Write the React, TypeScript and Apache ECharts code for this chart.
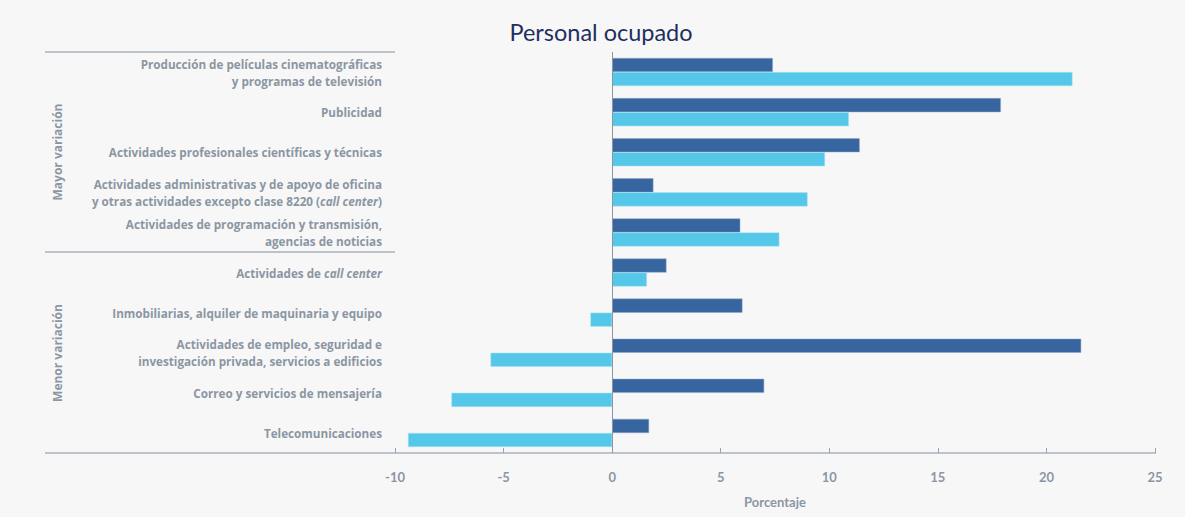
import React, { useEffect, useRef } from "react";
import * as echarts from "echarts";

const categories = [
  "Producción de películas cinematográficas\ny programas de televisión",
  "Publicidad",
  "Actividades profesionales científicas y técnicas",
  "Actividades administrativas y de apoyo de oficina\ny otras actividades excepto clase 8220 (call center)",
  "Actividades de programación y transmisión,\nagencias de noticias",
  "Actividades de call center",
  "Inmobiliarias, alquiler de maquinaria y equipo",
  "Actividades de empleo, seguridad e\ninvestigación privada, servicios a edificios",
  "Correo y servicios de mensajería",
  "Telecomunicaciones",
];

const seriesDark = [7.4, 17.9, 11.4, 1.9, 5.9, 2.5, 6.0, 21.6, 7.0, 1.7];
const seriesLight = [21.2, 10.9, 9.8, 9.0, 7.7, 1.6, -1.0, -5.6, -7.4, -9.4];

const groupLabels = ["Mayor variación", "Menor variación"];
const titleText = "Personal ocupado";
const xAxisName = "Porcentaje";

const GRAY = "#8b96a3";
const LINE = "#bcc3cb";
const FONT = "Lato, 'Noto Sans', sans-serif";
const LFONT = "'Open Sans', 'Noto Sans', sans-serif";

function richLabel(s: string): string {
  const parts = s.split("call center");
  const out: string[] = [];
  parts.forEach((p, i) => {
    if (p.length) out.push("{b|" + p + "}");
    if (i < parts.length - 1) out.push("{i|call center}");
  });
  return out.join("");
}

export default function App() {
  const ref = useRef<HTMLDivElement>(null);
  useEffect(() => {
    if (!ref.current) return;
    const chart = echarts.init(ref.current, undefined, { renderer: "svg" });
    const labelStyle = { fontFamily: LFONT, fontSize: 11.7, fontWeight: "bold" as const, color: GRAY, lineHeight: 17 };
    const groupStyle = {
      fontFamily: LFONT,
      fontSize: 12,
      fontWeight: "bold" as const,
      fill: GRAY,
      align: "center" as const,
      verticalAlign: "middle" as const,
    };
    chart.setOption({
      animation: false,
      backgroundColor: "#f7f7f7",
      grid: { left: 395, right: 30, top: 52, bottom: 64, containLabel: false },
      xAxis: {
        type: "value",
        min: -10,
        max: 25,
        interval: 5,
        name: xAxisName,
        nameLocation: "middle",
        nameGap: 42,
        nameTextStyle: { fontFamily: FONT, fontSize: 13, fontWeight: "bold", color: GRAY },
        axisLine: { show: true, lineStyle: { color: LINE, width: 2 } },
        axisTick: { show: true, inside: true, length: 5, lineStyle: { color: "#9aa3ad" } },
        axisLabel: { fontFamily: FONT, fontSize: 13, fontWeight: "bold", color: GRAY, margin: 17 },
        splitLine: { show: false },
      },
      yAxis: {
        type: "category",
        inverse: true,
        data: categories,
        axisLine: { show: false, onZero: false },
        axisTick: { show: false },
        axisLabel: {
          margin: 13,
          align: "right",
          formatter: (v: string) => richLabel(v),
          rich: {
            b: { ...labelStyle },
            i: { ...labelStyle, fontStyle: "italic" },
          },
          ...labelStyle,
        },
      },
      series: [
        {
          name: "Personal ocupado A",
          type: "bar",
          data: seriesDark,
          barGap: "0%",
          barCategoryGap: "30%",
          itemStyle: { color: "#37659f", borderColor: "#8fa8c9", borderWidth: 0.5 },
          markLine: {
            silent: true,
            symbol: "none",
            label: { show: false },
            lineStyle: { color: "#8c96a0", width: 1, type: "solid" },
            data: [{ xAxis: 0 }],
          },
        },
        {
          name: "Personal ocupado B",
          type: "bar",
          data: seriesLight,
          barGap: "0%",
          barCategoryGap: "30%",
          itemStyle: { color: "#55c8ea", borderColor: "#a9e2f4", borderWidth: 0.5 },
        },
      ],
      graphic: [
        {
          type: "text",
          x: 601,
          y: 32,
          style: {
            text: titleText,
            fontFamily: FONT,
            fontSize: 23.5,
            fill: "#1f2f5e",
            align: "center",
            verticalAlign: "middle",
          },
        },
        { type: "line", shape: { x1: 45, y1: 52, x2: 395, y2: 52 }, style: { stroke: LINE, lineWidth: 2 } },
        { type: "line", shape: { x1: 45, y1: 252, x2: 395, y2: 252 }, style: { stroke: LINE, lineWidth: 2 } },
        { type: "line", shape: { x1: 45, y1: 453, x2: 395, y2: 453 }, style: { stroke: LINE, lineWidth: 2 } },
        { type: "text", x: 57, y: 152, rotation: Math.PI / 2, style: { text: groupLabels[0], ...groupStyle } },
        { type: "text", x: 57, y: 353, rotation: Math.PI / 2, style: { text: groupLabels[1], ...groupStyle } },
      ],
    });
    return () => chart.dispose();
  }, []);
  return (
    <div
      ref={ref}
      style={{ position: "fixed", left: 0, top: 0, width: 1185, height: 517 }}
    />
  );
}
